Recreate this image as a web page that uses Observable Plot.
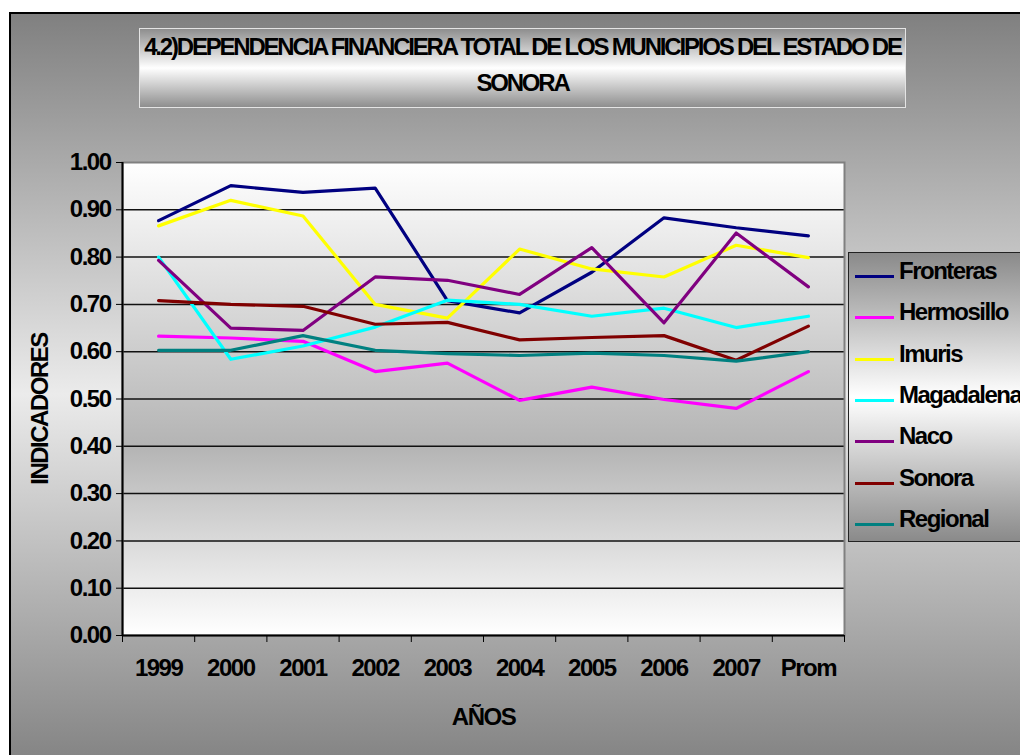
<!DOCTYPE html>
<html>
<head>
<meta charset="utf-8">
<script src="https://cdn.jsdelivr.net/npm/d3@7"></script>
<script src="https://cdn.jsdelivr.net/npm/@observablehq/plot@0.6"></script>
<style>
html, body { margin: 0; padding: 0; width: 1020px; height: 755px; overflow: hidden; background: #fff; font-family: "Liberation Sans", Arial, sans-serif; }
#frame { position: absolute; left: 9px; top: 12px; width: 1030px; height: 760px; border-left: 2px solid #000; border-top: 2px solid #000;
  background: linear-gradient(to bottom, #808080 0%, #ebebeb 50%, #808080 100%); }
#title { position: absolute; left: 139px; top: 28px; width: 765px; height: 78px; border: 1px solid #e4e4e4;
  background: linear-gradient(to bottom, #8e8e8e 0%, #ffffff 50%, #8e8e8e 100%);
  text-align: center; font-weight: bold; font-size: 24px; letter-spacing: -2.2px; line-height: 36px; color: #000; white-space: nowrap; }
#chart { position: absolute; left: 0; top: 120px; }
#legend { position: absolute; left: 848px; top: 252px; width: 200px; height: 288px; border: 1px solid #222;
  background: linear-gradient(to bottom, #8a8a8a 0%, #ffffff 50%, #8a8a8a 100%); }
.item { position: absolute; left: 0; height: 28px; line-height: 28px; font-weight: bold; font-size: 24px; letter-spacing: -1.5px; white-space: nowrap; color: #000; }
.sw { position: absolute; left: 6px; top: 18px; width: 39px; height: 3px; }
.lab { position: absolute; left: 50px; top: 0; }
</style>
</head>
<body>
<div id="frame"></div>
<div id="title">4.2)DEPENDENCIA FINANCIERA TOTAL DE LOS MUNICIPIOS DEL ESTADO DE<br>SONORA</div>
<div id="chart"></div>
<div id="legend"></div>
<script>
const years = ["1999", "2000", "2001", "2002", "2003", "2004", "2005", "2006", "2007", "Prom"];
const seriesNames = ["Fronteras", "Hermosillo", "Imuris", "Magadalena", "Naco", "Sonora", "Regional"];
const seriesColors = ["#000080", "#FF00FF", "#FFFF00", "#00FFFF", "#800080", "#800000", "#008080"];

const fronteras  = [0.877, 0.951, 0.937, 0.946, 0.708, 0.682, 0.768, 0.883, 0.862, 0.845];
const hermosillo = [0.633, 0.629, 0.622, 0.558, 0.576, 0.497, 0.525, 0.499, 0.480, 0.558];
const imuris     = [0.866, 0.920, 0.887, 0.700, 0.671, 0.817, 0.775, 0.758, 0.825, 0.799];
const magadalena = [0.800, 0.584, 0.612, 0.652, 0.709, 0.700, 0.675, 0.692, 0.651, 0.675];
const naco       = [0.793, 0.650, 0.645, 0.758, 0.751, 0.721, 0.820, 0.661, 0.851, 0.737];
const sonora     = [0.708, 0.700, 0.696, 0.658, 0.662, 0.625, 0.630, 0.634, 0.582, 0.654];
const regional   = [0.603, 0.603, 0.634, 0.603, 0.596, 0.592, 0.597, 0.592, 0.580, 0.600];

const yTicks = [0.0, 0.1, 0.2, 0.3, 0.4, 0.5, 0.6, 0.7, 0.8, 0.9, 1.0];
const yTitle = "INDICADORES";
const xTitle = "AÑOS";

const seriesValues = [fronteras, hermosillo, imuris, magadalena, naco, sonora, regional];
const rows = [];
seriesNames.forEach((s, k) => seriesValues[k].forEach((v, i) => rows.push({series: s, i, year: years[i], value: v})));
const bounds = d3.range(years.length + 1);

function plotBackground(index, scales, values, dim) {
  const g = d3.create("svg:g");
  const grad = g.append("defs").append("linearGradient")
    .attr("id", "plotbg").attr("x1", 0).attr("y1", 0).attr("x2", 0).attr("y2", 1);
  grad.append("stop").attr("offset", "0%").attr("stop-color", "#ffffff");
  grad.append("stop").attr("offset", "60%").attr("stop-color", "#b4b4b4");
  grad.append("stop").attr("offset", "100%").attr("stop-color", "#ffffff");
  g.append("rect")
    .attr("x", dim.marginLeft).attr("y", dim.marginTop)
    .attr("width", dim.width - dim.marginLeft - dim.marginRight)
    .attr("height", dim.height - dim.marginTop - dim.marginBottom)
    .attr("fill", "url(#plotbg)");
  return g.node();
}

const chart = Plot.plot({
  width: 1020,
  height: 635,
  marginLeft: 122,
  marginRight: 176,
  marginTop: 42,
  marginBottom: 120,
  style: {background: "transparent", fontFamily: "'Liberation Sans', Arial, sans-serif", fontSize: "24px", fontWeight: "bold", letterSpacing: "-1.5px", color: "#000", overflow: "visible"},
  x: {domain: [0, years.length], axis: null},
  y: {domain: [0, 1], axis: null},
  color: {domain: seriesNames, range: seriesColors},
  marks: [
    plotBackground,
    Plot.ruleY(yTicks.filter(v => v > 0 && v < 1), {stroke: "#111", strokeWidth: 1.5}),
    Plot.frame({stroke: "#808080", strokeWidth: 2}),
    Plot.ruleX([0], {stroke: "#000", strokeWidth: 2}),
    Plot.ruleY([0], {stroke: "#000", strokeWidth: 2}),
    Plot.axisY(yTicks, {anchor: "left", label: null, tickSize: 6, tickPadding: 6, tickFormat: d3.format(".2f"), fontSize: 24}),
    Plot.axisX(bounds, {anchor: "bottom", label: null, tickSize: 7, tickFormat: () => ""}),
    Plot.text(years, {x: (d, i) => i + 0.5, text: d => d, frameAnchor: "bottom", lineAnchor: "middle", textAnchor: "middle", dy: 33, fontSize: 24}),
    Plot.line(rows, {x: d => d.i + 0.5, y: "value", z: "series", stroke: "series", strokeWidth: 3.2}),
    Plot.text([yTitle], {text: d => d, frameAnchor: "left", textAnchor: "middle", lineAnchor: "middle", dx: -82, dy: 10, rotate: -90, fontSize: 24}),
    Plot.text([xTitle], {text: d => d, frameAnchor: "bottom", textAnchor: "middle", lineAnchor: "middle", dy: 82, fontSize: 24})
  ]
});
document.getElementById("chart").appendChild(chart);

const legend = d3.select("#legend");
seriesNames.forEach((s, k) => {
  const item = legend.append("div").attr("class", "item").style("top", (4 + k * 41.3) + "px");
  item.append("div").attr("class", "sw").style("background", seriesColors[k]);
  item.append("div").attr("class", "lab").text(s);
});
</script>
</body>
</html>
